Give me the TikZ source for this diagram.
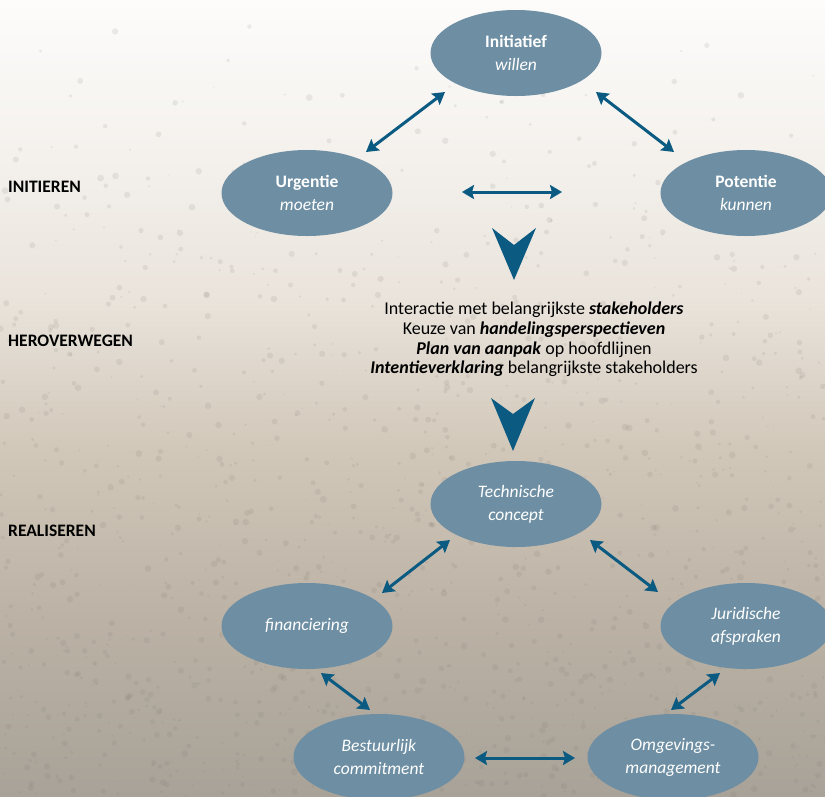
\documentclass[tikz,border=0pt]{standalone}
\usepackage{fontspec}
\setmainfont{Carlito}
\usetikzlibrary{shapes.geometric,arrows.meta}
\definecolor{ellfill}{HTML}{6E8FA3}
\definecolor{arrcol}{HTML}{0A5A82}
\definecolor{bgtop}{HTML}{FDFCFB}
\definecolor{bgA}{HTML}{F5F2EE}
\definecolor{bgB}{HTML}{E9E3DB}
\definecolor{bgC}{HTML}{D2C8BA}
\definecolor{bgD}{HTML}{BDB3A6}
\definecolor{bgbot}{HTML}{A8A298}
\definecolor{speckcol}{HTML}{7A766F}
\pgfdeclareverticalshading{bgshade}{100bp}{color(0bp)=(bgbot); color(25bp)=(bgbot); color(37bp)=(bgD); color(47bp)=(bgC); color(56bp)=(bgB); color(66bp)=(bgA); color(75bp)=(bgtop); color(100bp)=(bgtop)}
\tikzset{
  ell/.style={ellipse, fill=ellfill, minimum width=171pt, minimum height=86pt, inner sep=0pt, text=white, align=center, font=\fontsize{17.5}{23}\selectfont},
  biarrow/.style={draw=arrcol, line width=3pt, {Stealth[length=12pt,width=14pt,inset=2pt]}-{Stealth[length=12pt,width=14pt,inset=2pt]}},
  chevron/.style={fill=arrcol, draw=none},
  phase/.style={anchor=west, font=\fontsize{17.5}{20}\selectfont\bfseries, text=black, inner sep=0pt},
  midtext/.style={align=center, font=\fontsize{18}{19.8}\selectfont, text=black, inner sep=0pt},
  speck/.style={fill=speckcol, opacity=0.13}
}
\begin{document}
\begin{tikzpicture}[x=1pt,y=-1pt]
\useasboundingbox (0,0) rectangle (825,796);
\clip (0,0) rectangle (825,796);
\shade[shading=bgshade] (0,0) rectangle (825,796);
\pgfmathsetseed{42}
\foreach \i in {1,...,1400}{
  \pgfmathsetmacro{\px}{rnd*825}
  \pgfmathsetmacro{\py}{796*sqrt(rnd)}
  \pgfmathsetmacro{\pr}{0.6+rnd*2.8}
  \fill[speck] (\px,\py) circle[radius=\pr pt];
}
% phase labels
\node[phase] (l1) at (8,187) {INITIEREN};
\node[phase] (l2) at (8,341) {HEROVERWEGEN};
\node[phase] (l3) at (8,531) {REALISEREN};
% top triangle
\node[ell] (init) at (516,53) {\textbf{Initiatief}\\\textit{willen}};
\node[ell] (urg) at (307,193) {\textbf{Urgentie}\\\textit{moeten}};
\node[ell] (pot) at (746,193) {\textbf{Potentie}\\\textit{kunnen}};
\coordinate (a1) at (366,152);
\coordinate (a2) at (445,92);
\coordinate (b1) at (596,92);
\coordinate (b2) at (674,152);
\coordinate (c1) at (462,192);
\coordinate (c2) at (562,192);
\draw[biarrow] (a1) -- (a2);
\draw[biarrow] (b1) -- (b2);
\draw[biarrow] (c1) -- (c2);
% chevron 1
\coordinate (v1a) at (492,228);
\coordinate (v1b) at (514,245);
\coordinate (v1c) at (536,228);
\coordinate (v1d) at (514,280);
\fill[chevron] (v1a) -- (v1b) -- (v1c) -- (v1d) -- cycle;
% middle text
\node[midtext] (mid) at (534,339.5) {Interactie met belangrijkste \textbf{\textit{stakeholders}}\\
Keuze van \textbf{\textit{handelingsperspectieven}}\\
\textbf{\textit{Plan van aanpak}} op hoofdlijnen\\
\textbf{\textit{Intentieverklaring}} belangrijkste stakeholders};
% chevron 2
\coordinate (v2a) at (491,398);
\coordinate (v2b) at (513,414);
\coordinate (v2c) at (535,398);
\coordinate (v2d) at (513,451);
\fill[chevron] (v2a) -- (v2b) -- (v2c) -- (v2d) -- cycle;
% bottom pentagon
\node[ell] (tech) at (516,504) {\textit{Technische}\\\textit{concept}};
\node[ell] (fin) at (307,626) {\textit{financiering}};
\node[ell] (jur) at (746,626) {\textit{Juridische}\\\textit{afspraken}};
\node[ell] (best) at (379,757) {\textit{Bestuurlijk}\\\textit{commitment}};
\node[ell] (omg) at (673,757) {\textit{Omgevings-}\\\textit{management}};
\coordinate (d1) at (382,593);
\coordinate (d2) at (450,540);
\coordinate (e1) at (590,540);
\coordinate (e2) at (658,592);
\coordinate (f1) at (321,673);
\coordinate (f2) at (370,710);
\coordinate (g1) at (720,673);
\coordinate (g2) at (671,710);
\coordinate (h1) at (475,758);
\coordinate (h2) at (575,758);
\draw[biarrow] (d1) -- (d2);
\draw[biarrow] (e1) -- (e2);
\draw[biarrow] (f1) -- (f2);
\draw[biarrow] (g1) -- (g2);
\draw[biarrow] (h1) -- (h2);
\end{tikzpicture}
\end{document}
